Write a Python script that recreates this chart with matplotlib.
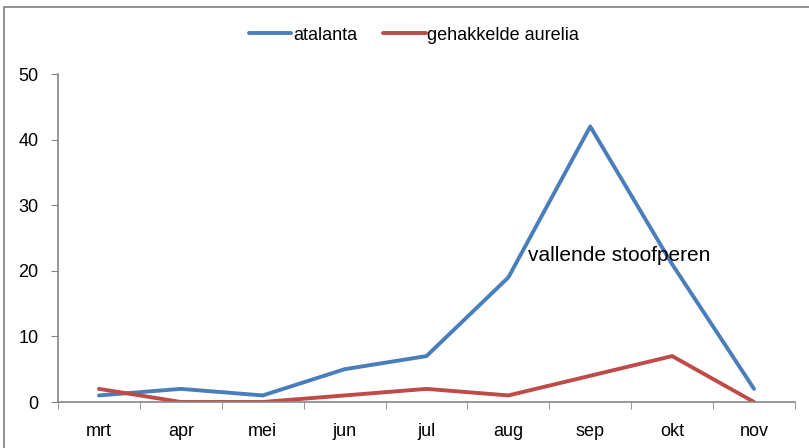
import matplotlib.pyplot as plt
from matplotlib.patches import Rectangle
import numpy as np

months = ['mrt', 'apr', 'mei', 'jun', 'jul', 'aug', 'sep', 'okt', 'nov']
atalanta = [1, 2, 1, 5, 7, 19, 42, 21, 2]
aurelia = [2, 0, 0, 1, 2, 1, 4, 7, 0]

plt.rcParams['font.family'] = ['Liberation Sans', 'DejaVu Sans']

W, H = 809, 448
fig = plt.figure(figsize=(W / 100, H / 100), dpi=100)
ax = fig.add_axes([58 / W, 1 - 402 / H, (795 - 58) / W, (402 - 74) / H])

# chart border
fig.patches.append(Rectangle((4 / W, -0.1), 1.2, 1 - 7 / H + 0.1,
                             transform=fig.transFigure, fill=False,
                             edgecolor='#7f7f7f', linewidth=1.2))

ix = np.arange(len(months))
ax.plot(ix, atalanta, color='#4A7EBB', linewidth=2.8, label='atalanta',
        solid_capstyle='round')
ax.plot(ix, aurelia, color='#BE4B48', linewidth=2.8, label='gehakkelde aurelia',
        solid_capstyle='round')

ax.set_xlim(-0.5, len(months) - 0.5)
ax.set_ylim(0, 50)
ax.set_yticks(range(0, 51, 10))
ax.set_xticks(ix)
ax.set_xticklabels(months)
ax.set_xticks(np.arange(-0.5, len(months), 1), minor=True)
ax.tick_params(axis='x', which='major', length=0, pad=15, labelsize=13)
ax.tick_params(axis='x', which='minor', length=5, color='#868686', direction='out')
ax.tick_params(axis='y', length=5, color='#868686', labelsize=13, pad=9)

for s in ['top', 'right']:
    ax.spines[s].set_visible(False)
for s in ['left', 'bottom']:
    ax.spines[s].set_color('#868686')
    ax.spines[s].set_linewidth(1.2)

ax.text(5.24, 22.3, 'vallende stoofperen', fontsize=15, va='center', ha='left')

fig.legend(loc='center', bbox_to_anchor=(414 / W, 1 - 35 / H), ncol=2,
           frameon=False, fontsize=13, handlelength=2.35, handletextpad=0.1,
           columnspacing=1.45)

fig.savefig('out.png', dpi=100)
